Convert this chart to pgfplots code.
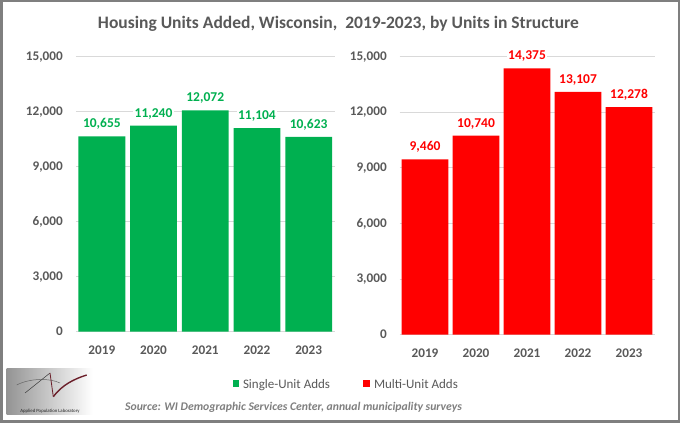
\documentclass[border=0pt]{standalone}
\usepackage{fontspec}
\setmainfont{Carlito}
\usepackage{pgfplots}
\pgfplotsset{compat=1.18}
\definecolor{sgreen}{HTML}{00B050}
\definecolor{mred}{HTML}{FF0000}
\definecolor{tgray}{HTML}{595959}
\definecolor{ggray}{HTML}{D9D9D9}
\definecolor{fgray}{HTML}{7F7F7F}
\definecolor{maroon}{HTML}{6B1F2A}
\pgfplotsset{
  hb/.style={
    scale only axis,
    xmin=-0.5, xmax=4.5, ymin=0, ymax=15000,
    ytick={0,3000,6000,9000,12000,15000},
    xtick={0,1,2,3,4},
    xticklabels={2019,2020,2021,2022,2023},
    axis line style={draw=none},
    major tick length=0pt,
    ymajorgrids,
    grid style={ggray, line width=0.9pt},
    scaled y ticks=false,
    /pgf/number format/fixed,
    /pgf/number format/precision=0,
    /pgf/number format/1000 sep={,},
    /pgf/number format/assume math mode=true,
    yticklabel style={font=\bfseries\fontsize{13.2}{15}\selectfont, text=tgray, anchor=east, inner sep=0pt},
    xticklabel style={font=\bfseries\fontsize{13.2}{15}\selectfont, text=tgray, anchor=base, inner sep=0pt, yshift=-22.8pt},
    ybar, bar width=46.8pt, bar shift=0pt,
    nodes near coords,
    every node near coord/.append style={font=\bfseries\fontsize{13.5}{15}\selectfont, anchor=base, yshift=8.5pt, fill=white, inner sep=1.5pt},
    clip=false,
  }
}
\begin{document}
\begin{tikzpicture}[x=1pt,y=1pt]
\useasboundingbox (0,0) rectangle (680,423);
\fill[white] (0,0) rectangle (680,423);
% title
\node[font=\bfseries\fontsize{17.5}{20}\selectfont, text=tgray, anchor=base] at (338.4,394.7) {Housing Units Added, Wisconsin,\ \ 2019-2023, by Units in Structure};
% left axis
\begin{axis}[hb, at={(76pt,91.3pt)}, anchor=south west, width=258.5pt, height=275pt,
  yticklabel style={xshift=-13pt},
  every node near coord/.append style={text=sgreen}]
\addplot[fill=sgreen, draw=none] coordinates {(0,10655) (1,11240) (2,12072) (3,11104) (4,10623)};
\end{axis}
% right axis
\begin{axis}[hb, at={(399.5pt,88.3pt)}, anchor=south west, width=255pt, height=278pt,
  yticklabel style={xshift=-12.6pt},
  every node near coord/.append style={text=mred}]
\addplot[fill=mred, draw=none] coordinates {(0,9460) (1,10740) (2,14375) (3,13107) (4,12278)};
\end{axis}
% legend
\fill[sgreen] (232.9,36.3) rectangle ++(6.3,6.3);
\node[font=\fontsize{13}{15}\selectfont, text=tgray, anchor=base west, inner sep=0pt] at (242.8,34.5) {Single-Unit Adds};
\fill[mred] (363.4,36.3) rectangle ++(6.3,6.3);
\node[font=\fontsize{13}{15}\selectfont, text=tgray, anchor=base west, inner sep=0pt] at (373.8,34.5) {Multi-Unit Adds};
% source
\node[font=\bfseries\itshape\fontsize{11.7}{13}\selectfont, text=fgray, anchor=base west, inner sep=0pt] at (125,12.3) {Source: WI Demographic Services Center, annual municipality surveys};
% logo
\shade[left color=black!42, right color=white] (6.7,8) rectangle (92.7,54.7);
\draw[black!60, line width=0.5pt] (16.7,38) .. controls (30,45) and (50,45) .. (60,40);
\draw[black!70, line width=0.6pt] (25,30) -- (50,50);
\draw[maroon, line width=0.8pt] (50,50) -- (53.3,26.3);
\draw[maroon, line width=1.4pt] (53.3,26.3) .. controls (62,38) and (74,44) .. (86.7,48);
\node[font=\fontsize{4.8}{5}\selectfont, text=black!85, inner sep=0pt] at (50,11.3) {Applied Population Laboratory};
% frame
\draw[fgray, line width=2.5pt] (1.25,1.25) rectangle (678.75,421.75);
\end{tikzpicture}
\end{document}
